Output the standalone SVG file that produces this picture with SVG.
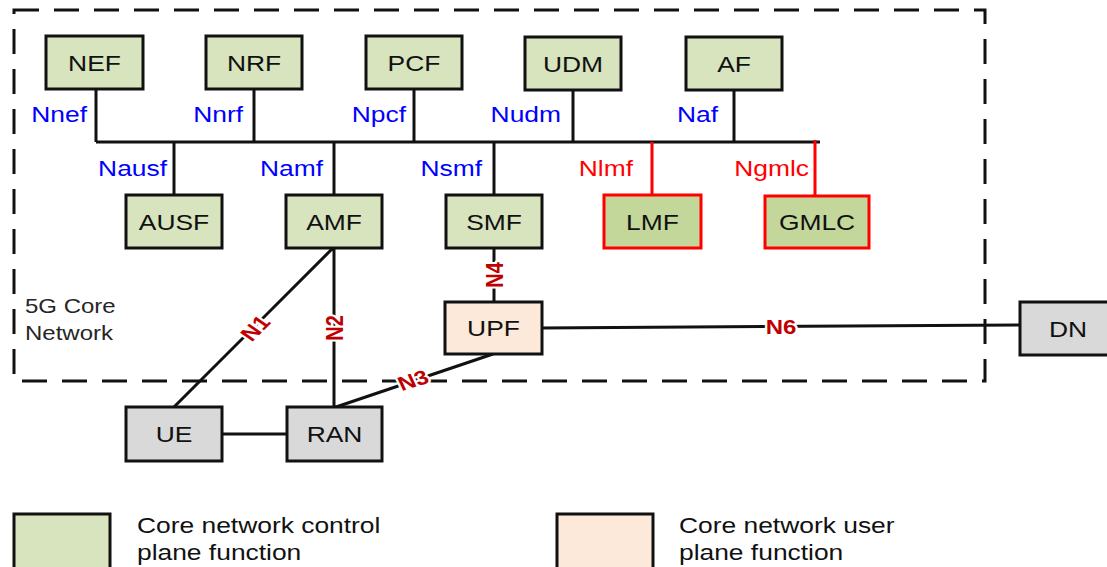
<svg xmlns="http://www.w3.org/2000/svg" width="1107" height="567" viewBox="0 0 1107 567">
<style>
text{font-family:"Liberation Sans",Arial,sans-serif}
.box{stroke:#111;stroke-width:3}
.cp{fill:#d7e4bd}
.loc{fill:#c4d79b;stroke:#f00;stroke-width:3}
.up{fill:#fce9d9}
.gr{fill:#d9d9d9}
.nt{font-size:22px;fill:#111;text-anchor:middle}
.ln{stroke:#111;stroke-width:3;fill:none}
.rl{stroke:#f00;stroke-width:3;fill:none}
.bl{font-size:22px;fill:#0000ff;text-anchor:end}
.rd{font-size:22px;fill:#ff0000;text-anchor:end}
.nl{font-size:20px;font-weight:bold;fill:#c00000;text-anchor:middle;stroke:#fff;stroke-width:4;paint-order:stroke;stroke-linejoin:round}
.lg{font-size:22px;fill:#111}
.cn{font-size:20px;fill:#262626}
</style>
<rect x="14" y="10" width="971" height="371" fill="none" stroke="#111" stroke-width="3" stroke-dasharray="25 15"/>
<g id="core-label"><text class="cn" transform="translate(25 313) scale(1.2 1)">5G Core</text><text class="cn" transform="translate(25 340) scale(1.2 1)">Network</text></g>
<g id="connectors">
<path class="ln" d="M96 142H820"/>
<path class="ln" d="M96 89V142M254 89V142M414 89V142M573 90V142M734 90V142"/>
<path class="ln" d="M174 142V195M334 142V195M494 142V195"/>
<path class="rl" d="M652 142V195M815 140V196"/>
<path class="ln" d="M494 248V302M333 248L174 407M334 248V407M493 354L336 407M222 434H287M541 328L1020 325"/>
<text class="bl" transform="translate(87 122) scale(1.2 1)">Nnef</text>
<text class="bl" transform="translate(243 122) scale(1.2 1)">Nnrf</text>
<text class="bl" transform="translate(406 122) scale(1.2 1)">Npcf</text>
<text class="bl" transform="translate(561 122) scale(1.2 1)">Nudm</text>
<text class="bl" transform="translate(718 122) scale(1.2 1)">Naf</text>
<text class="bl" transform="translate(167 176) scale(1.2 1)">Nausf</text>
<text class="bl" transform="translate(323 176) scale(1.2 1)">Namf</text>
<text class="bl" transform="translate(482 176) scale(1.2 1)">Nsmf</text>
<text class="rd" transform="translate(633 176) scale(1.2 1)">Nlmf</text>
<text class="rd" transform="translate(809 176) scale(1.2 1)">Ngmlc</text>
<text class="nl" dy="0.36em" transform="translate(255 328) scale(1.2 1) rotate(-50)">N1</text>
<text class="nl" dy="0.36em" transform="translate(334 328) scale(1.2 1) rotate(-90)">N2</text>
<text class="nl" dy="0.36em" transform="translate(413 380) scale(1.2 1) rotate(-21)">N3</text>
<text class="nl" dy="0.36em" transform="translate(494 275) scale(1.2 1) rotate(-90)">N4</text>
<text class="nl" dy="0.36em" transform="translate(781 327) scale(1.2 1)">N6</text>
</g>
<g id="NEF"><rect class="box cp" x="46" y="36" width="97" height="53"/><text class="nt" transform="translate(94.5 70.5) scale(1.2 1)">NEF</text></g>
<g id="NRF"><rect class="box cp" x="206" y="36" width="96" height="53"/><text class="nt" transform="translate(254 70.5) scale(1.2 1)">NRF</text></g>
<g id="PCF"><rect class="box cp" x="366" y="36" width="96" height="53"/><text class="nt" transform="translate(414 70.5) scale(1.2 1)">PCF</text></g>
<g id="UDM"><rect class="box cp" x="525" y="37" width="96" height="53"/><text class="nt" transform="translate(573 71.5) scale(1.2 1)">UDM</text></g>
<g id="AF"><rect class="box cp" x="686" y="37" width="96" height="53"/><text class="nt" transform="translate(734 71.5) scale(1.2 1)">AF</text></g>
<g id="AUSF"><rect class="box cp" x="126" y="195" width="96" height="53"/><text class="nt" transform="translate(174 229.5) scale(1.2 1)">AUSF</text></g>
<g id="AMF"><rect class="box cp" x="286" y="195" width="96" height="53"/><text class="nt" transform="translate(334 229.5) scale(1.2 1)">AMF</text></g>
<g id="SMF"><rect class="box cp" x="446" y="195" width="96" height="53"/><text class="nt" transform="translate(494 229.5) scale(1.2 1)">SMF</text></g>
<g id="LMF"><rect class="loc" x="604" y="195" width="97" height="53"/><text class="nt" transform="translate(652.5 229.5) scale(1.2 1)">LMF</text></g>
<g id="GMLC"><rect class="loc" x="765" y="196" width="104" height="52"/><text class="nt" transform="translate(817 230) scale(1.2 1)">GMLC</text></g>
<g id="UPF"><rect class="box up" x="445" y="302" width="97" height="52"/><text class="nt" transform="translate(493.5 336) scale(1.2 1)">UPF</text></g>
<g id="DN"><rect class="box gr" x="1020" y="302" width="100" height="53"/><text class="nt" transform="translate(1068 336.5) scale(1.2 1)">DN</text></g>
<g id="UE"><rect class="box gr" x="126" y="407" width="96" height="54"/><text class="nt" transform="translate(174 442) scale(1.2 1)">UE</text></g>
<g id="RAN"><rect class="box gr" x="287" y="407" width="95" height="54"/><text class="nt" transform="translate(334.5 442) scale(1.2 1)">RAN</text></g>
<g id="legend">
<rect class="box cp" x="14" y="514" width="96" height="60"/>
<text class="lg" transform="translate(137 533) scale(1.2 1)">Core network control</text>
<text class="lg" transform="translate(137 560) scale(1.2 1)">plane function</text>
<rect class="box up" x="557" y="514" width="96" height="60"/>
<text class="lg" transform="translate(679 533) scale(1.2 1)">Core network user</text>
<text class="lg" transform="translate(679 560) scale(1.2 1)">plane function</text>
</g>
</svg>
